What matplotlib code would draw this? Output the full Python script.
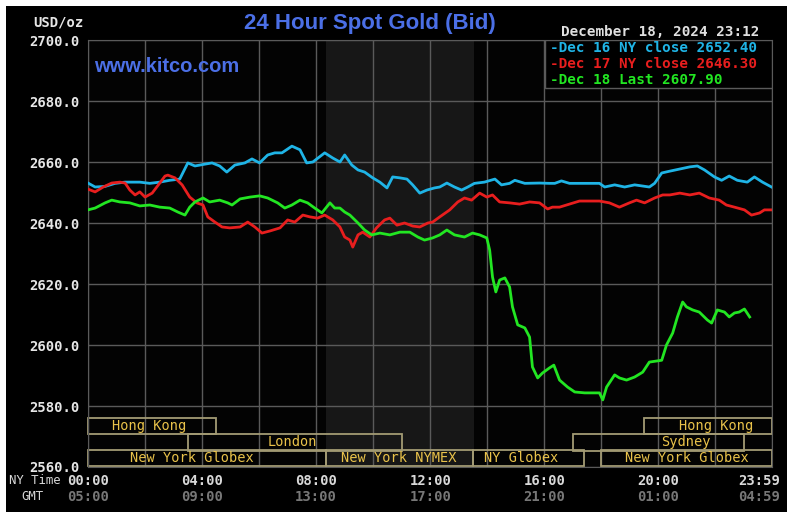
import matplotlib.pyplot as plt
from matplotlib.patches import Rectangle

# time in minutes after 00:00 NY time, price in USD/oz
dec16_t = [0, 15, 36, 57, 78, 109, 130, 151, 172, 193, 210, 225, 246, 261, 277, 292, 309, 330, 345, 361,
           378, 393, 408, 429, 446, 460, 473, 498, 515, 530, 540, 555, 568, 582, 599, 614, 629, 641, 656,
           671, 683, 698, 713, 729, 740, 755, 771, 786, 799, 813, 834, 856, 870, 887, 898, 919, 950, 971,
           982, 996, 1013, 1076, 1087, 1108, 1129, 1150, 1181, 1192, 1207, 1224, 1245, 1266, 1282, 1297,
           1318, 1333, 1349, 1366, 1387, 1402, 1419, 1438]
dec16_p = [2653.1, 2651.8, 2652.0, 2653.0, 2653.4, 2653.4, 2653.0, 2653.4, 2654.0, 2654.4, 2659.7, 2658.7,
           2659.3, 2659.7, 2658.7, 2656.7, 2659.0, 2659.7, 2661.0, 2659.7, 2662.3, 2663.0, 2663.0, 2665.2,
           2664.0, 2659.7, 2660.0, 2663.0, 2661.3, 2660.0, 2662.3, 2659.0, 2657.4, 2656.7, 2654.8, 2653.4,
           2651.5, 2655.1, 2654.8, 2654.4, 2652.5, 2649.8, 2650.8, 2651.5, 2651.8, 2653.1, 2651.8, 2650.8,
           2651.8, 2653.0, 2653.4, 2654.4, 2652.5, 2653.0, 2654.0, 2653.0, 2653.1, 2653.0, 2653.0, 2653.8,
           2653.0, 2653.0, 2651.8, 2652.5, 2651.8, 2652.5, 2651.8, 2653.0, 2656.4, 2657.0, 2657.7, 2658.4,
           2658.7, 2657.4, 2655.1, 2654.0, 2655.4, 2654.0, 2653.4, 2655.1, 2653.4, 2651.8]

dec17_t = [0, 15, 32, 50, 67, 78, 88, 99, 109, 120, 135, 151, 162, 168, 183, 198, 214, 229, 242, 252, 267,
           282, 298, 320, 336, 351, 366, 383, 404, 420, 435, 452, 467, 483, 498, 515, 530, 540, 551, 557,
           568, 578, 593, 607, 624, 635, 650, 666, 683, 698, 715, 725, 740, 761, 778, 792, 807, 824, 839,
           851, 866, 887, 908, 929, 950, 967, 977, 992, 1013, 1034, 1076, 1097, 1118, 1139, 1154, 1171,
           1192, 1209, 1224, 1245, 1266, 1286, 1307, 1328, 1343, 1360, 1381, 1396, 1413, 1423, 1438]
dec17_p = [2651.1, 2650.2, 2651.8, 2653.1, 2653.4, 2653.1, 2650.8, 2649.2, 2650.2, 2648.5, 2649.8, 2653.1,
           2655.4, 2655.7, 2654.8, 2652.5, 2648.5, 2646.6, 2645.9, 2642.0, 2640.3, 2638.7, 2638.4, 2638.7,
           2640.3, 2638.7, 2636.7, 2637.4, 2638.4, 2641.0, 2640.3, 2642.6, 2642.0, 2641.6, 2642.6, 2641.0,
           2638.7, 2635.4, 2634.4, 2632.1, 2636.1, 2637.0, 2635.4, 2638.4, 2641.0, 2641.6, 2639.3, 2640.0,
           2639.0, 2638.7, 2640.0, 2640.3, 2642.0, 2644.3, 2646.9, 2648.2, 2647.5, 2649.8, 2648.5, 2649.2,
           2646.9, 2646.6, 2646.2, 2646.9, 2646.6, 2644.6, 2645.2, 2645.2, 2646.2, 2647.2, 2647.2, 2646.6,
           2645.2, 2646.6, 2647.5, 2646.6, 2648.2, 2649.2, 2649.2, 2649.8, 2649.2, 2649.8, 2648.2, 2647.5,
           2645.9, 2645.2, 2644.3, 2642.6, 2643.3, 2644.3, 2644.3]

dec18_t = [0, 15, 36, 50, 67, 88, 109, 130, 151, 172, 189, 204, 214, 225, 242, 256, 277, 294, 303, 320, 341,
           361, 378, 399, 414, 429, 446, 462, 477, 492, 509, 519, 530, 540, 551, 568, 582, 597, 614, 635,
           656, 677, 694, 708, 725, 740, 755, 771, 792, 809, 824, 839, 845, 851, 858, 866, 877, 887, 893,
           904, 919, 929, 935, 946, 956, 971, 980, 992, 1009, 1024, 1045, 1076, 1083, 1091, 1108, 1118,
           1133, 1150, 1167, 1181, 1207, 1217, 1230, 1240, 1251, 1259, 1272, 1286, 1303, 1312, 1324, 1339,
           1349, 1360, 1370, 1381, 1392]
dec18_p = [2644.3, 2644.9, 2646.6, 2647.5, 2646.9, 2646.6, 2645.6, 2645.9, 2645.2, 2644.9, 2643.6, 2642.6,
           2645.2, 2646.9, 2648.2, 2646.9, 2647.5, 2646.6, 2645.9, 2647.9, 2648.5, 2648.9, 2648.2, 2646.6,
           2644.9, 2645.9, 2647.5, 2646.6, 2644.9, 2643.3, 2646.6, 2644.9, 2644.9, 2643.6, 2642.6, 2640.0,
           2637.7, 2636.1, 2636.7, 2636.1, 2637.0, 2637.0, 2635.4, 2634.4, 2635.1, 2636.1, 2637.7, 2636.1,
           2635.4, 2636.7, 2636.1, 2635.1, 2631.1, 2622.3, 2617.4, 2621.3, 2622.0, 2619.0, 2612.5, 2606.6,
           2605.6, 2602.6, 2592.8, 2589.2, 2590.8, 2592.5, 2593.4, 2588.5, 2586.2, 2584.6, 2584.3, 2584.3,
           2582.0, 2586.2, 2590.2, 2589.2, 2588.5, 2589.5, 2591.1, 2594.4, 2595.0, 2600.0, 2603.9, 2609.2,
           2614.1, 2612.5, 2611.5, 2610.8, 2608.2, 2607.2, 2611.5, 2610.8, 2609.2, 2610.5, 2610.8, 2611.8,
           2609.2]

legend_labels = ['-Dec 16 NY close 2652.40', '-Dec 17 NY close 2646.30', '-Dec 18 Last 2607.90']
ny_ticks = ['00:00', '04:00', '08:00', '12:00', '16:00', '20:00', '23:59']
gmt_ticks = ['05:00', '09:00', '13:00', '17:00', '21:00', '01:00', '04:59']
tick_min = [0, 240, 480, 720, 960, 1200, 1439]

# market sessions: (start, end, row, label, label position)
sessions = [
    (0, 270, 0, 'Hong Kong', 128),
    (1170, 1440, 0, 'Hong Kong', 1322),
    (210, 660, 1, 'London', 429),
    (1020, 1380, 1, 'Sydney', 1257),
    (0, 500, 2, 'New York Globex', 219),
    (500, 810, 2, 'New York NYMEX', 654),
    (810, 1043, 2, 'NY Globex', 912),
    (1080, 1440, 2, 'New York Globex', 1259),
]
row_bottom = [2570.8, 2565.4, 2560.2]

mono = 'DejaVu Sans Mono'
grid_c = '#5a5a5a'

fig = plt.figure(figsize=(7.9, 5.18), dpi=100, facecolor='white')
fig.patches.append(Rectangle((6 / 790, 1 - 512 / 518), 781 / 790, 506 / 518,
                             transform=fig.transFigure, facecolor='black', edgecolor='none', zorder=-10))

ax = fig.add_axes([88 / 790, 1 - 467 / 518, 684 / 790, 427 / 518])
ax.set_facecolor('#030303')
ax.set_xlim(0, 1439)
ax.set_ylim(2560, 2700)

ax.axvspan(500, 812, color='#171717', zorder=0.2, lw=0)
for gx in range(0, 1441, 120):
    ax.axvline(gx, color=grid_c, lw=1, zorder=0.5)
for gy in range(2560, 2701, 20):
    ax.axhline(gy, color=grid_c, lw=1, zorder=0.5)
for s in ax.spines.values():
    s.set_color(grid_c)

ax.plot(dec16_t, dec16_p, color='#1fb4e6', lw=2, zorder=3)
ax.plot(dec17_t, dec17_p, color='#e81e1e', lw=2, zorder=3)
ax.plot(dec18_t, dec18_p, color='#22e622', lw=2, zorder=3)

ax.set_xticks([])
ax.set_yticks(range(2560, 2701, 20))
ax.set_yticklabels(['%.1f' % v for v in range(2560, 2701, 20)], family=mono, weight='bold',
                   fontsize=10, color='#e6e6e6')
ax.tick_params(axis='y', length=0, pad=6)

# sessions
for start, end, row, label, lx in sessions:
    ax.add_patch(Rectangle((start, row_bottom[row]), end - start, 5.3, fill=False,
                           edgecolor='#a39b74', lw=1.3, zorder=2, clip_on=False))
    ax.text(lx, row_bottom[row] + 2.65, label, family=mono, fontsize=9.8, color='#e9c24a',
            ha='center', va='center', zorder=4)

# legend box
ax.add_patch(Rectangle((961, 2684.3), 478, 15.7, facecolor='black', edgecolor=grid_c, lw=1, zorder=5))
for lab, col, yy in zip(legend_labels, ['#1fb4e6', '#e81e1e', '#22e622'], [2697.4, 2692.1, 2686.9]):
    ax.text(972, yy, lab, family=mono, weight='bold', fontsize=10.3, color=col,
            ha='left', va='center', zorder=6)

ax.text(12, 2691.2, 'www.kitco.com', family='Liberation Sans', weight='bold', fontsize=14.5,
        color='#4b6fe6', ha='left', va='center', zorder=6)

# time axis labels
xt = ax.get_xaxis_transform()
for m, ny, gmt in zip(tick_min, ny_ticks, gmt_ticks):
    ha = 'right' if m == 1439 else 'center'
    xm = m + 17 if m == 1439 else m
    ax.text(xm, -0.033, ny, transform=xt, family=mono, weight='bold', fontsize=10,
            color='#d8d8d8', ha=ha, va='center')
    ax.text(xm, -0.071, gmt, transform=xt, family=mono, weight='bold', fontsize=10,
            color='#777777', ha=ha, va='center')
fig.text(9 / 790, 1 - 481 / 518, 'NY Time', family=mono, fontsize=8.8, color='#d8d8d8', ha='left', va='center')
fig.text(21 / 790, 1 - 497 / 518, 'GMT', family=mono, fontsize=8.8, color='#d8d8d8', ha='left', va='center')

fig.text(83 / 790, 1 - 22 / 518, 'USD/oz', family=mono, weight='bold', fontsize=10, color='#e6e6e6',
         ha='right', va='center')
fig.text(370 / 790, 1 - 24 / 518, '24 Hour Spot Gold (Bid)', family='Liberation Sans', weight='bold',
         fontsize=16, color='#4b6fe6', ha='center', va='center')
fig.text(660 / 790, 1 - 32 / 518, 'December 18, 2024 23:12', family=mono, weight='bold', fontsize=10.3,
         color='#e0e0e0', ha='center', va='center')

plt.savefig('out.png', dpi=100, facecolor=fig.get_facecolor())
